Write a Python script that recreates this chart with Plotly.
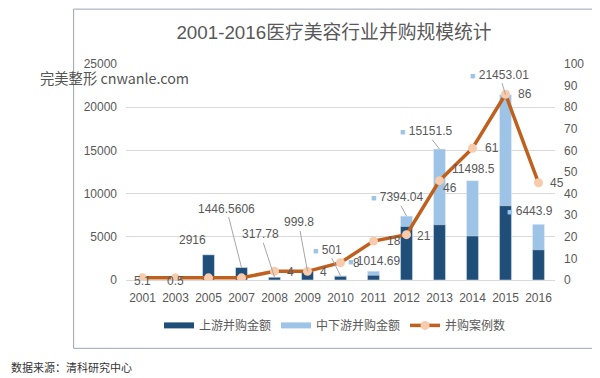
import plotly.graph_objects as go

# ---------------- data ----------------
years = ["2001", "2003", "2005", "2007", "2008", "2009", "2010",
         "2011", "2012", "2013", "2014", "2015", "2016"]
upstream = [5.1, 0.5, 2916, 1446.5606, 317.78, 999.8, 420,
            550, 6200, 6400, 5100, 8600, 3500]
downstream = [None, None, None, None, None, None, 501,
              1014.69, 7394.04, 15151.5, 11498.5, 21453.01, 6443.9]
cases = [1, 1, 1, 1, 4, 4, 8, 18, 21, 46, 61, 86, 45]

up_labels = ["5.1", "0.5", "2916", "1446.5606", "317.78", "999.8"]
down_labels = ["501", "1014.69", "7394.04", "15151.5", "11498.5", "21453.01", "6443.9"]
case_label_years = ["2008", "2009", "2010", "2011", "2012", "2013", "2014", "2015", "2016"]

# ---------------- style ----------------
DARK = "#1F4E79"
LIGHT = "#9DC3E6"
LINE = "#C0601E"
MARK = "#F8CBAD"
GRAY = "#595959"
FONT = "Liberation Sans, Arial, Noto Sans CJK SC, sans-serif"
CJK = "Noto Sans CJK SC, sans-serif"

OFF = 8  # page body margin of the browser
W, H = 600 - OFF, 378 - OFF
ML, MR, MT, MB = 117.5, 44.5, 56, 97.5
PW, PH = W - ML - MR, H - MT - MB


def px(xp):  # reference-picture x -> paper
    return (xp - OFF - ML) / PW


def py(yp):  # reference-picture y -> paper
    return (MT + PH - (yp - OFF)) / PH


fig = go.Figure()
fig.add_trace(go.Bar(x=years, y=downstream, marker_color=LIGHT, width=0.36,
                     name="中下游并购金额", showlegend=False, yaxis="y"))
fig.add_trace(go.Bar(x=years, y=upstream, marker_color=DARK, width=0.36,
                     name="上游并购金额", showlegend=False, yaxis="y"))
fig.add_trace(go.Scatter(x=years, y=cases, yaxis="y2", mode="lines+markers",
                         line=dict(color=LINE, width=3.5),
                         marker=dict(color=MARK, size=9),
                         name="并购案例数", showlegend=False))

# legend entries (no visible data)
fig.add_trace(go.Scatter(x=[years[0]], y=[None], mode="lines", line=dict(color=DARK, width=6),
                         name="上游并购金额"))
fig.add_trace(go.Scatter(x=[years[0]], y=[None], mode="lines", line=dict(color=LIGHT, width=6),
                         name="中下游并购金额"))
fig.add_trace(go.Scatter(x=[years[0]], y=[None], mode="lines+markers",
                         line=dict(color=LINE, width=3.5),
                         marker=dict(color=MARK, size=9), name="并购案例数"))

ann = []
lab_font = dict(family=FONT, size=12, color=GRAY)
key = '<span style="color:%s;font-size:9px">■</span> ' % LIGHT


def add_label(i, yval, yref, text, mode, dx, dy):
    if mode == "s":
        ann.append(dict(x=i, y=yval, xref="x", yref=yref, text=text,
                        showarrow=False, xshift=dx, yshift=dy, font=lab_font))
    else:
        ann.append(dict(x=i, y=yval, xref="x", yref=yref, text=text,
                        showarrow=True, arrowhead=0, arrowwidth=1, arrowcolor="#A6A6A6",
                        ax=dx, ay=dy, standoff=0, font=lab_font))


up_pos = [("s", 0, -1), ("s", 0, -1), ("s", -16, 15), ("a", -15, -59),
          ("a", -14, -43), ("a", -9, -49)]
for i, t in enumerate(up_labels):
    mode, dx, dy = up_pos[i]
    add_label(i, upstream[i], "y", t, mode, dx, dy)

down_pos = [("a", -13, -26, True), ("s", 0, 10, True), ("a", -10, -19, True),
            ("a", -14, -18, True), ("s", 1, 12, False), ("a", -6, -20, True),
            ("s", -9, 13, True)]
for j, t in enumerate(down_labels):
    i = 6 + j
    mode, dx, dy, k = down_pos[j]
    add_label(i, downstream[i], "y", (key + t) if k else t, mode, dx, dy)

case_pos = [(16, -1), (16, -1), (16, 0), (20, 0), (17, -1), (10, -7), (19, 0), (19, 0), (18, 0)]
for j, yr in enumerate(case_label_years):
    i = years.index(yr)
    dx, dy = case_pos[j]
    add_label(i, cases[i], "y2", str(cases[i]), "s", dx, dy)

ann.append(dict(x=px(37), y=py(78), xref="paper", yref="paper", xanchor="left",
                yanchor="middle", text="完美整形 cnwanle.com", showarrow=False,
                font=dict(family=CJK, size=14.3, color="#555555")))
ann.append(dict(x=px(OFF), y=py(368), xref="paper", yref="paper", xanchor="left",
                yanchor="middle", text="数据来源：清科研究中心", showarrow=False,
                font=dict(family=CJK, size=11, color="#333333")))

fig.update_layout(
    width=W, height=H,
    margin=dict(l=ML, r=MR, t=MT, b=MB, pad=0),
    paper_bgcolor="white", plot_bgcolor="white",
    barmode="overlay",
    title=dict(text="2001-2016医疗美容行业并购规模统计", x=(334 - OFF) / W, xref="container",
               xanchor="center", y=1 - (32 - OFF) / H, yanchor="middle",
               font=dict(family=FONT, size=18.8, color=GRAY)),
    xaxis=dict(type="category", categoryorder="array", categoryarray=years,
               range=[-0.5, len(years) - 0.5],
               tickfont=dict(family=FONT, size=12, color=GRAY),
               showline=True, linecolor="#D9D9D9", linewidth=1, ticks="",
               ticklabelstandoff=7),
    yaxis=dict(range=[0, 25000], dtick=5000, tickformat="d", gridcolor="#D9D9D9",
               zeroline=False, tickfont=dict(family=FONT, size=12, color=GRAY),
               ticklabelstandoff=8),
    yaxis2=dict(range=[0, 100], dtick=10, tickformat="d", overlaying="y", side="right",
                showgrid=False, zeroline=False,
                tickfont=dict(family=FONT, size=12, color=GRAY), ticklabelstandoff=8),
    legend=dict(orientation="h", x=px(335), xanchor="center", y=py(326), yanchor="middle",
                font=dict(family=CJK, size=12, color=GRAY), bgcolor="rgba(0,0,0,0)"),
    annotations=ann,
    shapes=[dict(type="rect", xref="paper", yref="paper", x0=px(73), x1=px(594),
                 y0=py(349), y1=py(OFF + 1), line=dict(color="#9AA5B0", width=1),
                 fillcolor="rgba(0,0,0,0)", layer="below")],
)

fig.write_html("out.html")
